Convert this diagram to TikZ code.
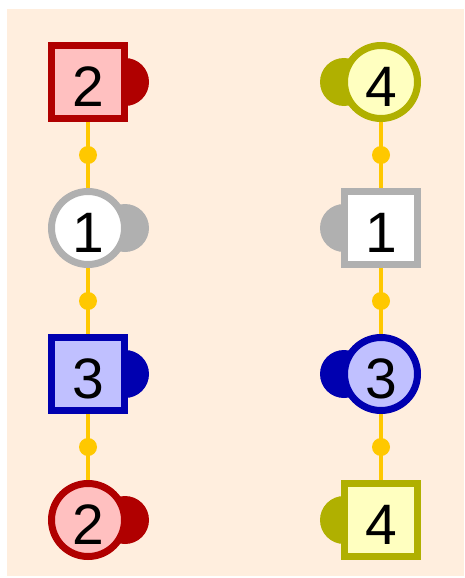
\documentclass[tikz,border=0pt]{standalone}
\usepackage{fontspec}
\setmainfont{Liberation Sans}
\usetikzlibrary{calc}
\definecolor{bgc}{RGB}{255,238,222}
\definecolor{linkc}{RGB}{255,200,0}
\definecolor{redB}{RGB}{176,0,0}\definecolor{redF}{RGB}{255,192,192}
\definecolor{grayB}{RGB}{176,176,176}\definecolor{grayF}{RGB}{255,255,255}
\definecolor{blueB}{RGB}{0,0,176}\definecolor{blueF}{RGB}{192,192,255}
\definecolor{yelB}{RGB}{176,176,0}\definecolor{yelF}{RGB}{255,255,192}
\tikzset{
  lbl/.style={font=\fontsize{57}{60}\selectfont, text=black, text height=49pt, text depth=0pt},
  sq/.style={lbl, draw=#1B, fill=#1F, line width=7pt, minimum size=73pt, inner sep=0pt, outer sep=0pt},
  rd/.style={lbl, circle, draw=#1B, fill=#1F, line width=7pt, minimum size=73pt, inner sep=0pt, outer sep=0pt},
  blob/.style={fill=#1B, circle, minimum size=48pt, inner sep=0pt},
  dotn/.style={fill=linkc, circle, minimum size=18pt, inner sep=0pt},
  link/.style={draw=linkc, line width=3.3pt}
}
\begin{document}
\begin{tikzpicture}[x=1pt,y=-1pt]
\useasboundingbox (0,0) rectangle (464,578);
\fill[bgc] (7,9) rectangle (464,576);
% blobs
\node[blob=red]  (b1) at (125,82) {};
\node[blob=gray] (b2) at (125,228) {};
\node[blob=blue] (b3) at (125,374) {};
\node[blob=red]  (b4) at (125,520) {};
\node[blob=yel]  (b5) at (344,82) {};
\node[blob=gray] (b6) at (344,228) {};
\node[blob=blue] (b7) at (344,374) {};
\node[blob=yel]  (b8) at (344,520) {};
% links
\coordinate (l1) at (88,82); \coordinate (l4) at (88,520);
\coordinate (r1) at (381,82); \coordinate (r4) at (381,520);
\draw[link] (l1) -- (l4);
\draw[link] (r1) -- (r4);
% shapes
\node[sq=red]  (a1) at (88,82) {2};
\node[rd=gray] (a2) at (88,228) {1};
\node[sq=blue] (a3) at (88,374) {3};
\node[rd=red]  (a4) at (88,520) {2};
\node[rd=yel]  (c1) at (381,82) {4};
\node[sq=gray] (c2) at (381,228) {1};
\node[rd=blue] (c3) at (381,374) {3};
\node[sq=yel]  (c4) at (381,520) {4};
% dots
\node[dotn] (d1) at ($(a1)!0.5!(a2)$) {};
\node[dotn] (d2) at ($(a2)!0.5!(a3)$) {};
\node[dotn] (d3) at ($(a3)!0.5!(a4)$) {};
\node[dotn] (d4) at ($(c1)!0.5!(c2)$) {};
\node[dotn] (d5) at ($(c2)!0.5!(c3)$) {};
\node[dotn] (d6) at ($(c3)!0.5!(c4)$) {};
\end{tikzpicture}
\end{document}
